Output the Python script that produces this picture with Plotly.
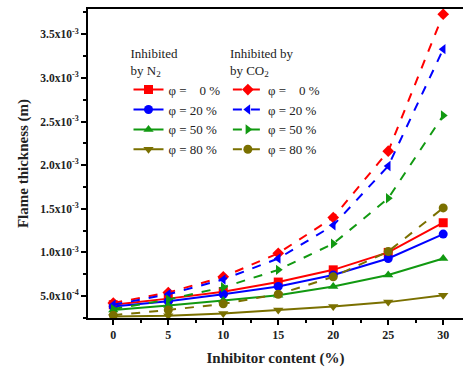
import plotly.graph_objects as go

x = [0, 5, 10, 15, 20, 25, 30]
n2_0 = [0.40e-3, 0.47e-3, 0.55e-3, 0.66e-3, 0.80e-3, 1.00e-3, 1.34e-3]
n2_20 = [0.38e-3, 0.44e-3, 0.52e-3, 0.61e-3, 0.74e-3, 0.93e-3, 1.21e-3]
n2_50 = [0.34e-3, 0.39e-3, 0.45e-3, 0.51e-3, 0.61e-3, 0.74e-3, 0.93e-3]
n2_80 = [0.265e-3, 0.275e-3, 0.30e-3, 0.34e-3, 0.38e-3, 0.43e-3, 0.51e-3]
co2_0 = [0.42e-3, 0.54e-3, 0.72e-3, 0.99e-3, 1.40e-3, 2.16e-3, 3.73e-3]
co2_20 = [0.40e-3, 0.52e-3, 0.69e-3, 0.93e-3, 1.31e-3, 1.99e-3, 3.33e-3]
co2_50 = [0.35e-3, 0.46e-3, 0.60e-3, 0.80e-3, 1.10e-3, 1.62e-3, 2.57e-3]
co2_80 = [0.28e-3, 0.34e-3, 0.41e-3, 0.52e-3, 0.72e-3, 1.01e-3, 1.51e-3]

labels = ["φ =\u00a0\u00a0\u00a0 0 %", "φ = 20 %", "φ = 50 %", "φ = 80 %"]
y_tickvals = [0.5e-3, 1.0e-3, 1.5e-3, 2.0e-3, 2.5e-3, 3.0e-3, 3.5e-3]
y_ticktext = ["5.0x10<sup>-4</sup>", "1.0x10<sup>-3</sup>", "1.5x10<sup>-3</sup>",
              "2.0x10<sup>-3</sup>", "2.5x10<sup>-3</sup>", "3.0x10<sup>-3</sup>",
              "3.5x10<sup>-3</sup>"]

colors = ["#FF0000", "#0000FF", "#119911", "#7A7000"]
n2_series = [n2_0, n2_20, n2_50, n2_80]
co2_series = [co2_0, co2_20, co2_50, co2_80]
n2_symbols = ["square", "circle", "triangle-up", "triangle-down"]
co2_symbols = ["diamond", "triangle-left", "triangle-right", "circle"]

FONT = "Liberation Serif, Times New Roman, serif"

fig = go.Figure()
for ys, c, s, lab in zip(n2_series, colors, n2_symbols, labels):
    fig.add_trace(go.Scatter(x=x, y=ys, mode="lines+markers", name=lab,
                             line=dict(color=c, width=2), cliponaxis=False,
                             marker=dict(symbol=s, size=9, color=c),
                             legend="legend"))
for ys, c, s, lab in zip(co2_series, colors, co2_symbols, labels):
    fig.add_trace(go.Scatter(x=x, y=ys, mode="lines+markers", name=lab,
                             line=dict(color=c, width=2, dash="dash"), cliponaxis=False,
                             marker=dict(symbol=s, size=9, color=c),
                             legend="legend2"))

legend_common = dict(font=dict(family=FONT, size=13, color="#222"),
                     bgcolor="rgba(0,0,0,0)", tracegroupgap=0,
                     itemwidth=30, xanchor="left", yanchor="top")

fig.update_layout(
    width=463, height=373,
    margin=dict(l=88, r=0, t=9, b=55),
    plot_bgcolor="white", paper_bgcolor="white",
    font=dict(family=FONT, color="#222"),
    legend=dict(x=0.108, y=0.897,
                title=dict(text="Inhibited<br>by N<sub>2</sub>",
                           font=dict(family=FONT, size=13, color="#222"), side="top"),
                **legend_common),
    legend2=dict(x=0.373, y=0.897,
                 title=dict(text="Inhibited by<br>by CO<sub>2</sub>",
                            font=dict(family=FONT, size=13, color="#222"), side="top"),
                 **legend_common),
    xaxis=dict(range=[-2.3, 31.8], tickvals=x, ticks="outside", ticklen=5, tickwidth=1.5,
               tickcolor="black", showgrid=False, zeroline=False, automargin=False,
               showline=True, linecolor="black", linewidth=2, mirror=True,
               minor=dict(ticks="outside", ticklen=3, tickwidth=1.5, dtick=2.5,
                          tick0=0, tickcolor="black", showgrid=False),
               tickfont=dict(family=FONT, size=12, color="#222", weight="bold"),
               title=dict(text="Inhibitor content (%)", standoff=11,
                          font=dict(family=FONT, size=15, color="#222", weight="bold"))),
    yaxis=dict(range=[2.48e-4, 3.79e-3], tickvals=y_tickvals, ticktext=y_ticktext,
               ticks="outside", ticklen=5, tickwidth=1.5, tickcolor="black",
               showgrid=False, zeroline=False, automargin=False,
               showline=True, linecolor="black", linewidth=2,
               minor=dict(ticks="outside", ticklen=3, tickwidth=1.5, dtick=0.25e-3,
                          tick0=0, tickcolor="black", showgrid=False),
               tickfont=dict(family=FONT, size=11.5, color="#222", weight="bold"),
               title=dict(text="Flame thickness (m)", standoff=8,
                          font=dict(family=FONT, size=15, color="#222", weight="bold"))),
)

fig.write_html("out.html", config={"displayModeBar": False},
               post_script="document.body.style.margin='0';")
